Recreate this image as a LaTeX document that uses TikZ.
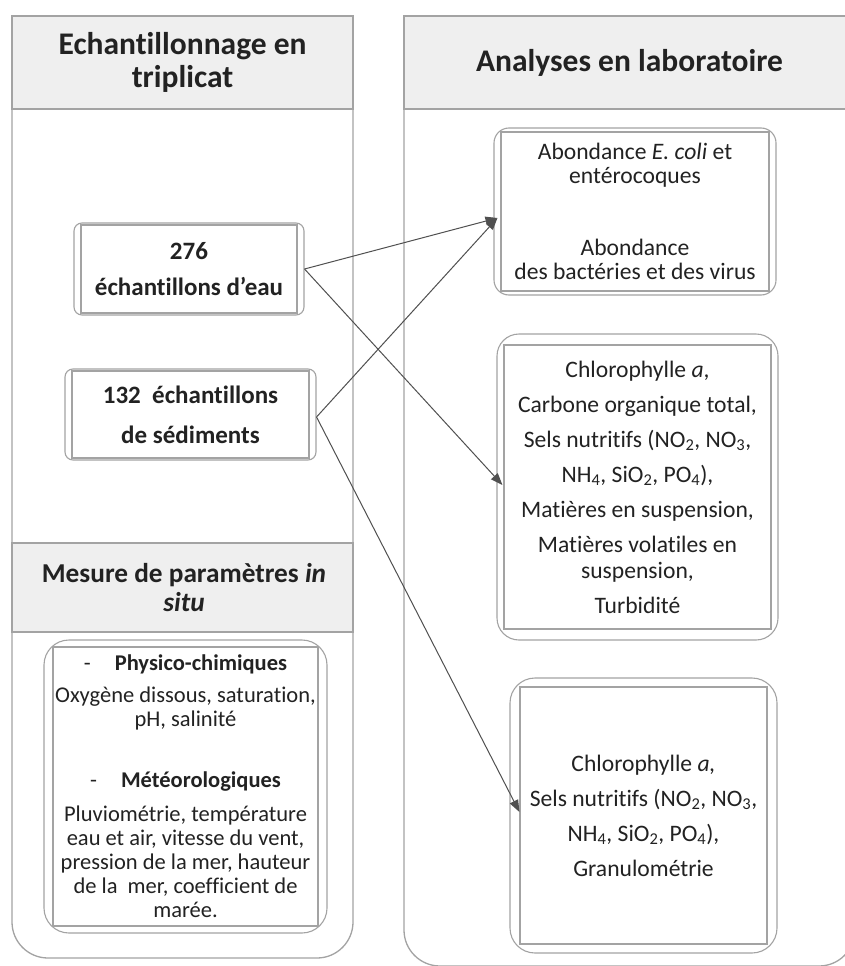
\documentclass[tikz,border=0pt]{standalone}
\usepackage{fontspec}
\setmainfont{Carlito}[Ligatures=NoCommon]
\usetikzlibrary{arrows.meta}
\definecolor{framegray}{HTML}{A3A3A3}
\definecolor{headgray}{HTML}{EFEFEF}
\definecolor{arrowgray}{HTML}{505050}
\definecolor{inkgray}{HTML}{222222}
\newcommand{\bodyfont}{\fontsize{22.5}{24}\selectfont}
\newcommand{\labfont}{\fontsize{23.6}{24}\selectfont}
\newcommand{\boldfont}{\fontsize{25}{24}\selectfont\bfseries}
\newcommand{\headfont}{\fontsize{31.5}{33}\selectfont\bfseries}
\tikzset{
  panel/.style={draw=framegray, line width=1.3pt, rounded corners=36pt},
  headbar/.style={draw=framegray, fill=headgray, line width=1.3pt},
  headtext/.style={align=center, inner sep=0pt, text=inkgray, font=\headfont},
  dbox/.style n args={3}{draw=framegray, line width=1.1pt, rounded corners=#1,
    align=center, inner sep=0pt, text=inkgray, font=\bodyfont,
    path picture={\draw[framegray, line width=1.1pt, sharp corners]
      ([shift={(#2,#3)}]path picture bounding box.north west) rectangle
      ([shift={(-#2,-#3)}]path picture bounding box.south east);}},
  link/.style={-{Triangle[length=12pt,width=9pt]}, draw=arrowgray, line width=1pt},
}

\begin{document}
\begin{tikzpicture}[x=1pt,y=-1pt]
  \useasboundingbox[fill=white] (0,0) rectangle (844,966);

  %left panel
  \draw[panel] (12,16) rectangle (353,958);
  \draw[headbar] (12,16) rectangle (353,109);
  \draw[headbar] (12,543) rectangle (353,632);
  \node[headtext] (hsamp) at (182.5,62.5) {Echantillonnage en\\triplicat};
  \node[headtext, font=\fontsize{27.3}{29}\selectfont\bfseries] (hmes) at (184,587.5)
    {Mesure de paramètres \textit{in}\\\textit{situ}};

  %right panel
  \draw[panel] (404,16) rectangle (855,966);
  \draw[headbar] (404,16) rectangle (855,109);
  \node[headtext] (hlab) at (629.5,62.5) {Analyses en laboratoire};

  %samples
  \node[dbox={8pt}{7}{2}, font=\boldfont, minimum width=230pt, minimum height=92pt] (wat) at (189,269)
    {276\\[12pt]échantillons d’eau};
  \node[dbox={8pt}{7}{2}, font=\boldfont, minimum width=251pt, minimum height=91pt] (sed) at (190.5,414.5)
    {132\ \ échantillons\\[16pt]de sédiments};

  %in situ measures
  \node[dbox={25pt}{9}{7}, minimum width=283pt, minimum height=293pt] (mes) at (185.5,786.5)
    {-\hspace{24pt}\textbf{Physico-chimiques}\\[8pt]
     Oxygène dissous, saturation,\\pH, salinité\\[37pt]
     -\hspace{24pt}\textbf{Météorologiques}\\[10pt]
     Pluviométrie, température\\eau et air, vitesse du vent,\\
     pression de la mer, hauteur\\de la\ \ mer, coefficient de\\marée.};

  %lab analyses
  \node[dbox={15pt}{7}{4}, font=\labfont, minimum width=282pt, minimum height=167pt] (abond) at (635,211.5)
    {Abondance \textit{E. coli} et\\entérocoques\\[48pt]Abondance\\des bactéries et des virus};
  \node[dbox={22pt}{7}{11}, font=\labfont, minimum width=281pt, minimum height=306pt] (chloro) at (637.5,487)
    {Chlorophylle \textit{a},\\[11pt]
     Carbone organique total,\\[11pt]
     Sels nutritifs (NO\textsubscript{2}, NO\textsubscript{3},\\[11pt]
     NH\textsubscript{4}, SiO\textsubscript{2}, PO\textsubscript{4}),\\[11pt]
     Matières en suspension,\\[11pt]
     Matières volatiles en\\[2pt]suspension,\\[11pt]
     Turbidité};
  \node[dbox={25pt}{10}{9}, font=\labfont, minimum width=267pt, minimum height=275pt] (granu) at (643.5,815.5)
    {Chlorophylle \textit{a,}\\[11pt]
     Sels nutritifs (NO\textsubscript{2}, NO\textsubscript{3},\\[11pt]
     NH\textsubscript{4}, SiO\textsubscript{2}, PO\textsubscript{4}),\\[11pt]
     Granulométrie};

  %links
  \draw[link] (wat.east) -- ([xshift=4pt,yshift=-6.5pt]abond.west);
  \draw[link] (wat.east) -- ([xshift=6pt,yshift=2pt]chloro.west);
  \draw[link] ([yshift=-2.5pt]sed.east) -- ([xshift=4pt,yshift=-6.5pt]abond.west);
  \draw[link] ([yshift=-2.5pt]sed.east) -- ([xshift=10pt,yshift=3.5pt]granu.west);
\end{tikzpicture}
\end{document}
